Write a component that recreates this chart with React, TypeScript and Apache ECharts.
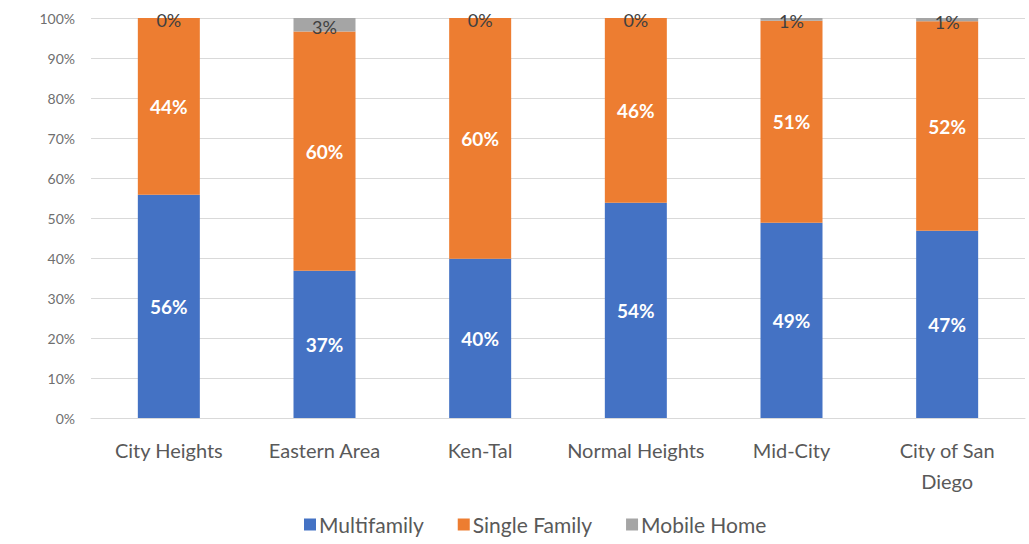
import React, { useEffect, useRef } from "react";
import * as echarts from "echarts";

const categories = ["City Heights", "Eastern Area", "Ken-Tal", "Normal Heights", "Mid-City", "City of San\nDiego"];
const multifamily = [55.8, 36.8, 39.8, 53.8, 48.8, 46.8];
const singleFamily = [44.2, 59.8, 60.2, 46.2, 50.5, 52.4];
const mobileHome = [0, 3.4, 0, 0, 0.7, 0.8];
const yTicks = [0, 10, 20, 30, 40, 50, 60, 70, 80, 90, 100];

const FONT = "Lato, 'Open Sans', sans-serif";
const pct = (p: any) => Math.round(p.value) + "%";

export default function App() {
  const ref = useRef<HTMLDivElement>(null);
  useEffect(() => {
    const chart = echarts.init(ref.current!, undefined, { renderer: "svg" });
    const whiteLabel = {
      show: true,
      position: "inside",
      color: "#ffffff",
      fontWeight: "bold",
      fontSize: 19,
      fontFamily: FONT,
      formatter: pct,
    };
    chart.setOption({
      animation: false,
      backgroundColor: "#ffffff",
      grid: { left: 91, right: 4, top: 18, bottom: 126, containLabel: false },
      legend: {
        bottom: 4,
        left: 299,
        itemWidth: 12,
        itemHeight: 12,
        itemGap: 34,
        icon: "rect",
        textStyle: { color: "#595959", fontSize: 21, fontFamily: FONT, padding: [0, 0, 0, -2] },
        data: ["Multifamily", "Single Family", "Mobile Home"],
      },
      xAxis: {
        type: "category",
        data: categories,
        axisLine: { lineStyle: { color: "#d9d9d9" } },
        axisTick: { show: false },
        axisLabel: { color: "#595959", fontSize: 20, fontFamily: FONT, margin: 16, lineHeight: 31, interval: 0 },
      },
      yAxis: {
        type: "value",
        min: 0,
        max: 100,
        interval: 10,
        axisLine: { show: false },
        axisTick: { show: false },
        splitLine: { lineStyle: { color: "#d9d9d9" } },
        axisLabel: {
          color: "#6f6f6f",
          fontSize: 14,
          fontFamily: FONT,
          margin: 16,
          formatter: (v: number) => (yTicks.includes(v) ? v + "%" : ""),
        },
      },
      series: [
        {
          name: "Multifamily",
          type: "bar",
          stack: "total",
          barWidth: 62,
          data: multifamily,
          itemStyle: { color: "#4472c4" },
          label: whiteLabel,
        },
        {
          name: "Single Family",
          type: "bar",
          stack: "total",
          data: singleFamily,
          itemStyle: { color: "#ed7d31" },
          label: whiteLabel,
        },
        {
          name: "Mobile Home",
          type: "bar",
          stack: "total",
          data: mobileHome,
          itemStyle: { color: "#a5a5a5" },
          label: {
            show: true,
            position: "inside",
            offset: [0, 2],
            color: "#404040",
            fontSize: 18,
            fontFamily: FONT,
            formatter: pct,
          },
        },
      ],
    });
    return () => chart.dispose();
  }, []);
  return <div ref={ref} style={{ width: 1029, height: 544, position: "absolute", left: 0, top: 0 }} />;
}
